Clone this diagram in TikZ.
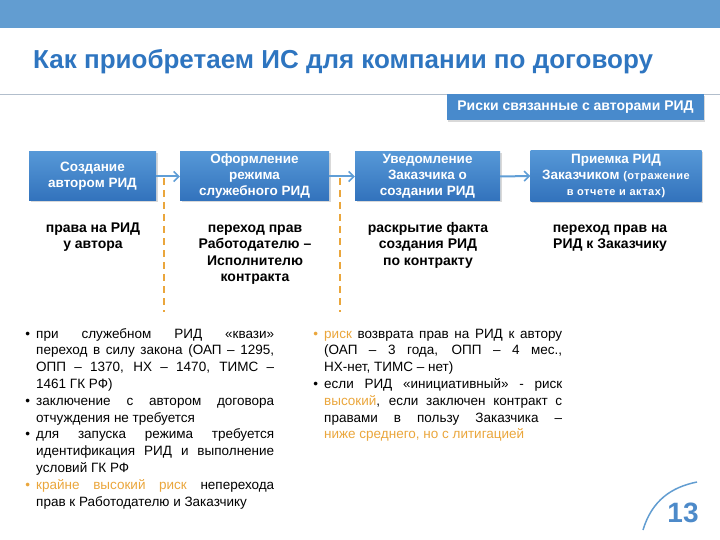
\documentclass[tikz,border=0pt]{standalone}
\usepackage{fontspec}
\setmainfont{Liberation Sans}
\usepackage{enumitem}
\usetikzlibrary{shadows}
\usetikzlibrary{arrows.meta}

\definecolor{barblue}{RGB}{98,157,209}
\definecolor{titleblue}{RGB}{46,117,192}
\definecolor{boxtop}{RGB}{86,152,215}
\definecolor{boxbot}{RGB}{50,114,188}
\definecolor{riskblue}{RGB}{72,138,204}
\definecolor{arrowblue}{RGB}{96,158,214}
\definecolor{riskorange}{RGB}{234,166,60}
\definecolor{rulegrey}{RGB}{178,190,204}

\begin{document}
\begin{tikzpicture}[x=1pt,y=-1pt,
	stage/.style = {rectangle,
		minimum height=49pt,
		inner sep=1pt,
		top color=boxtop, bottom color=boxbot,
		text=white, align=center,
		font=\bfseries\fontsize{13.5}{16}\selectfont,
		drop shadow={shadow xshift=1.5pt, shadow yshift=-1.5pt, opacity=0.3}},
	result/.style = {anchor=north, align=center, inner sep=0pt,
		font=\bfseries\fontsize{14}{16.3}\selectfont},
	flow/.style = {arrowblue, line width=2pt,
		-{Straight Barb[length=5pt,width=10pt,line width=1.6pt]}},
	border/.style = {riskorange, line width=2.5pt,
		dash pattern=on 7pt off 5pt},
	notes/.style = {anchor=north west, text width=252pt, inner sep=0pt,
		align=justify, font=\fontsize{13.5}{16.8}\selectfont}]
	
	\useasboundingbox (0,0) rectangle (720,540);
	
	% Header
	\fill[barblue] (0,0) rectangle (720,28);
	\node[anchor=west, inner sep=0pt, text=titleblue, font=\bfseries\fontsize{26}{28}\selectfont]
		(title) at (33,62) {Как приобретаем ИС для компании по договору};
	\draw[rulegrey, line width=0.8pt] (0,94) -- (720,94);
	
	% Risk tag
	\node[fill=riskblue, minimum width=257pt, minimum height=26pt, text=white,
		font=\bfseries\fontsize{14}{14}\selectfont,
		drop shadow={shadow xshift=1pt, shadow yshift=-2pt, opacity=0.3}]
		(risk) at (575.5,107) {Риски связанные с авторами РИД};
	
	% Stages
	\node[stage, minimum width=127pt] (create) at (92.5,176.5)
		{Создание\\автором РИД};
	\node[stage, minimum width=149pt] (regime) at (254.5,176.5)
		{Оформление\\режима\\служебного РИД};
	\node[stage, minimum width=145pt] (notify) at (427.5,176.5)
		{Уведомление\\Заказчика о\\создании РИД};
	\node[stage, minimum width=171pt, minimum height=51pt] (accept) at (616,176)
		{Приемка РИД\\Заказчиком {\fontsize{11}{12}\selectfont\addfontfeatures{LetterSpace=5}(отражение}\\
		{\fontsize{11}{14}\selectfont\addfontfeatures{LetterSpace=5}в отчете и актах)}};
	
	% Arrows
	\draw[flow] (create.east) -- (regime.west);
	\draw[flow] (regime.east) -- (notify.west);
	\draw[flow] (notify.east) -- (accept.west);
	
	% Results under stages
	\node[result] (r1) at (93,221) {\strut права на РИД\\у автора};
	\node[result] (r2) at (255,221) {\strut переход прав\\Работодателю –\\Исполнителю\\контракта};
	\node[result] (r3) at (428,221) {\strut раскрытие факта\\создания РИД\\по контракту};
	\node[result] (r4) at (610,221) {\strut переход прав на\\РИД к Заказчику};
	
	% Dashed borders
	\coordinate (d1top) at (164,178);
	\coordinate (d1bot) at (164,312);
	\coordinate (d2top) at (340,178);
	\coordinate (d2bot) at (340,312);
	\draw[border] (d1top) -- (d1bot);
	\draw[border] (d2top) -- (d2bot);
	
	% Left notes
	\node[notes] (left) at (22,321) {%
		\begin{itemize}[leftmargin=14pt, labelsep=6pt, itemsep=0pt, topsep=0pt, parsep=0pt, partopsep=0pt]
		\item при служебном РИД «квази»\linebreak переход в силу закона (ОАП – 1295,\linebreak ОПП – 1370, НХ – 1470, ТИМС –\linebreak 1461 ГК РФ)
		\item заключение с автором договора\linebreak отчуждения не требуется
		\item для запуска режима требуется\linebreak идентификация РИД и выполнение\linebreak условий ГК РФ
		\item[\textcolor{riskorange}{\textbullet}] \textcolor{riskorange}{крайне высокий риск} неперехода\linebreak прав к Работодателю и Заказчику
		\end{itemize}};
	
	% Right notes
	\node[notes] (right) at (310,321) {%
		\begin{itemize}[leftmargin=14pt, labelsep=6pt, itemsep=0pt, topsep=0pt, parsep=0pt, partopsep=0pt]
		\item[\textcolor{riskorange}{\textbullet}] \textcolor{riskorange}{риск} возврата прав на РИД к автору\linebreak (ОАП – 3 года, ОПП – 4 мес.,\linebreak НХ-нет, ТИМС – нет)
		\item если РИД «инициативный» - риск\linebreak \textcolor{riskorange}{высокий}, если заключен контракт с\linebreak правами в пользу Заказчика –\linebreak \textcolor{riskorange}{ниже среднего, но с литигацией}
		\end{itemize}};
	
	% Page number
	\node[text=titleblue!85, font=\bfseries\fontsize{28}{30}\selectfont]
		(page) at (683,513) {13};
	\draw[barblue, line width=1.5pt] (643,530) .. controls (652,500) and (672,487) .. (697,482);
	
\end{tikzpicture}
\end{document}
